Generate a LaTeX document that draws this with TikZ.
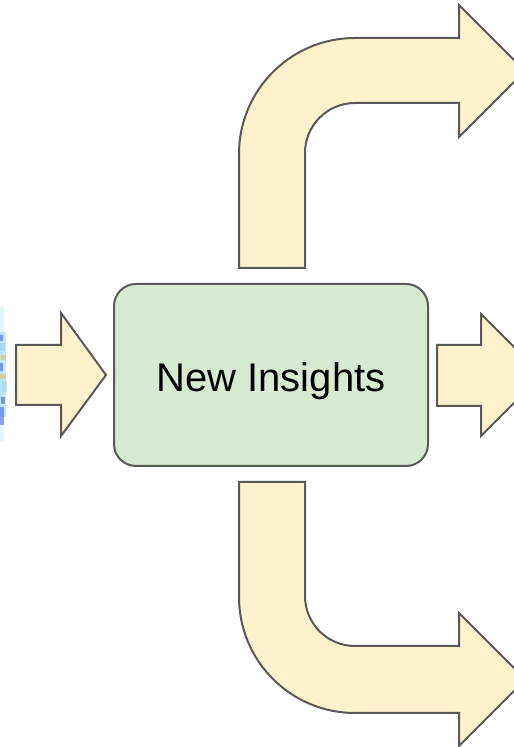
\documentclass[tikz,border=0pt]{standalone}
\usepackage{fontspec}
\setmainfont{Liberation Sans}
\definecolor{edge}{HTML}{595959}
\definecolor{arrowfill}{HTML}{FFF2CC}
\definecolor{boxfill}{HTML}{D9EAD3}
\definecolor{dotblue}{HTML}{2040D0}
\definecolor{dotcyan}{HTML}{8AD2E8}
\definecolor{dotgold}{HTML}{E8B040}
\begin{document}
\begin{tikzpicture}[x=1pt,y=1pt,
  flow/.style={draw=edge, fill=arrowfill, line width=2pt, line join=miter},
  insight/.style={draw=edge, fill=boxfill, line width=2pt, rounded corners=22pt,
    minimum width=314pt, minimum height=182pt, inner sep=0pt,
    text height=40pt, text depth=6pt,
    font=\fontsize{40}{48}\selectfont}]
\useasboundingbox (0,0) rectangle (514,747);
\clip (0,0) rectangle (514,747);

% edge of a plot image on the far left
\begin{scope}[opacity=0.45]
  \fill[dotcyan!50] (0,305) rectangle (4,440);
  \fill[dotcyan] (0,330) rectangle (6,415);
  \fill[dotblue] (0,322) rectangle (4,340);
  \fill[dotblue] (1,343) rectangle (5,350);
  \fill[dotcyan] (2,355) rectangle (7,366);
  \fill[dotgold] (0,368) rectangle (6,373);
  \fill[dotblue] (0,376) rectangle (3,384);
  \fill[dotgold] (1,387) rectangle (6,392);
  \fill[dotcyan] (0,396) rectangle (5,404);
  \fill[dotblue] (0,406) rectangle (3,412);
\end{scope}

% incoming arrow
\draw[flow] (16,402) -- (61,402) -- (61,434) -- (106,372) -- (61,311)
  -- (61,342) -- (16,342) -- cycle;

% central box
\node[insight] (insights) at (271,372) {New Insights};

% upper bent arrow
\draw[flow] (239,479) -- (239,593) arc[start angle=180,end angle=90,radius=116]
  -- (459,709) -- (459,742) -- (525,676) -- (459,610) -- (459,644) -- (355,644)
  arc[start angle=90,end angle=180,radius=50] -- (305,479) -- cycle;

% straight outgoing arrow
\draw[flow] (437,402) -- (481,402) -- (481,433) -- (542,372) -- (481,311)
  -- (481,341) -- (437,341) -- cycle;

% lower bent arrow
\draw[flow] (239,265) -- (239,150) arc[start angle=180,end angle=270,radius=116]
  -- (459,34) -- (459,1) -- (525.5,67.5) -- (459,134) -- (459,101) -- (355,101)
  arc[start angle=270,end angle=180,radius=50] -- (305,265) -- cycle;
\end{tikzpicture}
\end{document}
